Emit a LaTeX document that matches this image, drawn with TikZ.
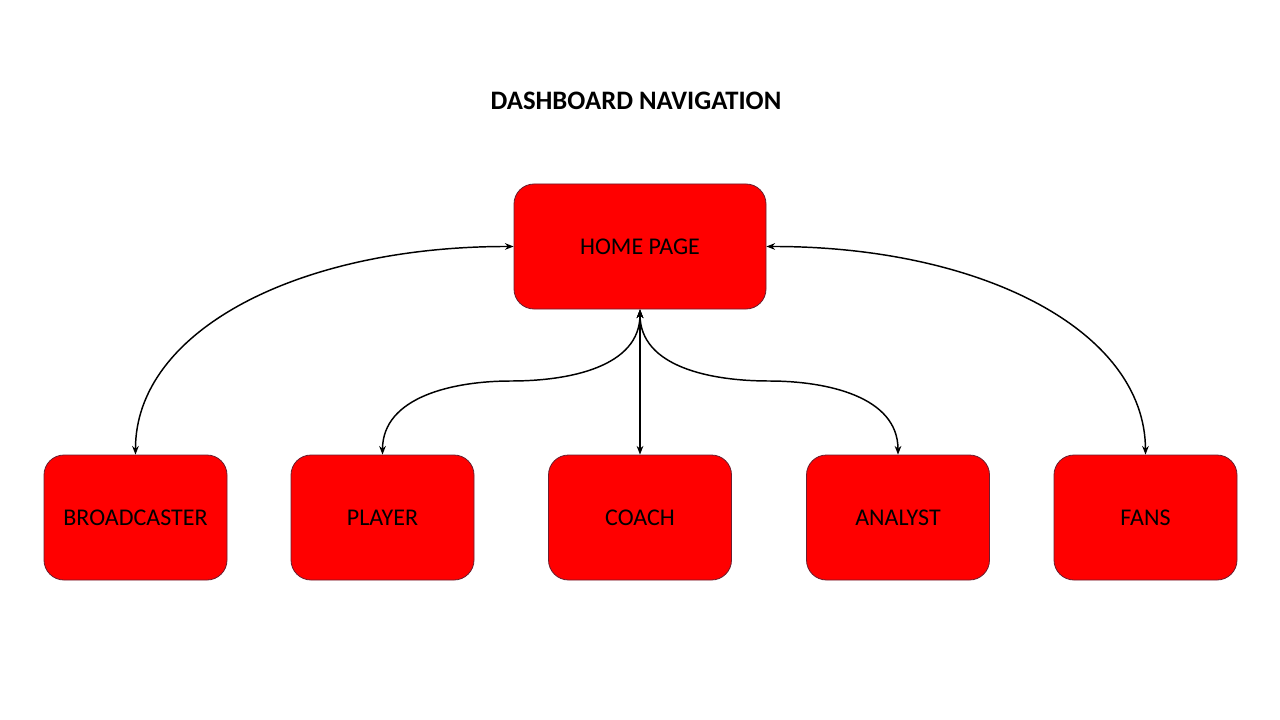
\documentclass[tikz,border=0pt]{standalone}
\usepackage{fontspec}
\setmainfont{Carlito}
\usetikzlibrary{arrows.meta}
\definecolor{boxred}{HTML}{FF0000}
\definecolor{boxedge}{HTML}{6B1E2E}
\begin{document}
\begin{tikzpicture}[x=0.75pt,y=-0.75pt,
  navbox/.style={draw=boxedge,line width=0.6pt,fill=boxred,rounded corners=15pt,
    minimum height=93.75pt,inner sep=0pt,font=\fontsize{18}{21}\selectfont,text=black},
  link/.style={line width=1.1pt,{Stealth[length=6.5pt,width=5pt]}-{Stealth[length=6.5pt,width=5pt]}}]
\useasboundingbox[fill=white] (0,0) rectangle (1280,720);
\node[font=\bfseries\fontsize{20}{24}\selectfont] (title) at (636,101) {DASHBOARD NAVIGATION};
\node[navbox,minimum width=189pt] (home) at (640,246.5) {HOME PAGE};
\node[navbox,minimum width=137.25pt] (broad) at (135.5,517.5) {BROADCASTER};
\node[navbox,minimum width=137.25pt] (player) at (382.5,517.5) {PLAYER};
\node[navbox,minimum width=137.25pt] (coach) at (640,517.5) {COACH};
\node[navbox,minimum width=137.25pt] (analyst) at (898,517.5) {ANALYST};
\node[navbox,minimum width=137.25pt] (fans) at (1145.5,517.5) {FANS};
\coordinate (pm) at (511,381);
\coordinate (am) at (769,381);
\draw[link] (home.west) .. controls (300,246) and (135,330) .. (broad.north);
\draw[link] (home.east) .. controls (980,246) and (1145,330) .. (fans.north);
\draw[link] (home.south) -- (coach.north);
\draw[link] (home.south) to[out=-90,in=0] (pm) to[out=180,in=90] (player.north);
\draw[link] (home.south) to[out=-90,in=180] (am) to[out=0,in=90] (analyst.north);
\end{tikzpicture}
\end{document}
